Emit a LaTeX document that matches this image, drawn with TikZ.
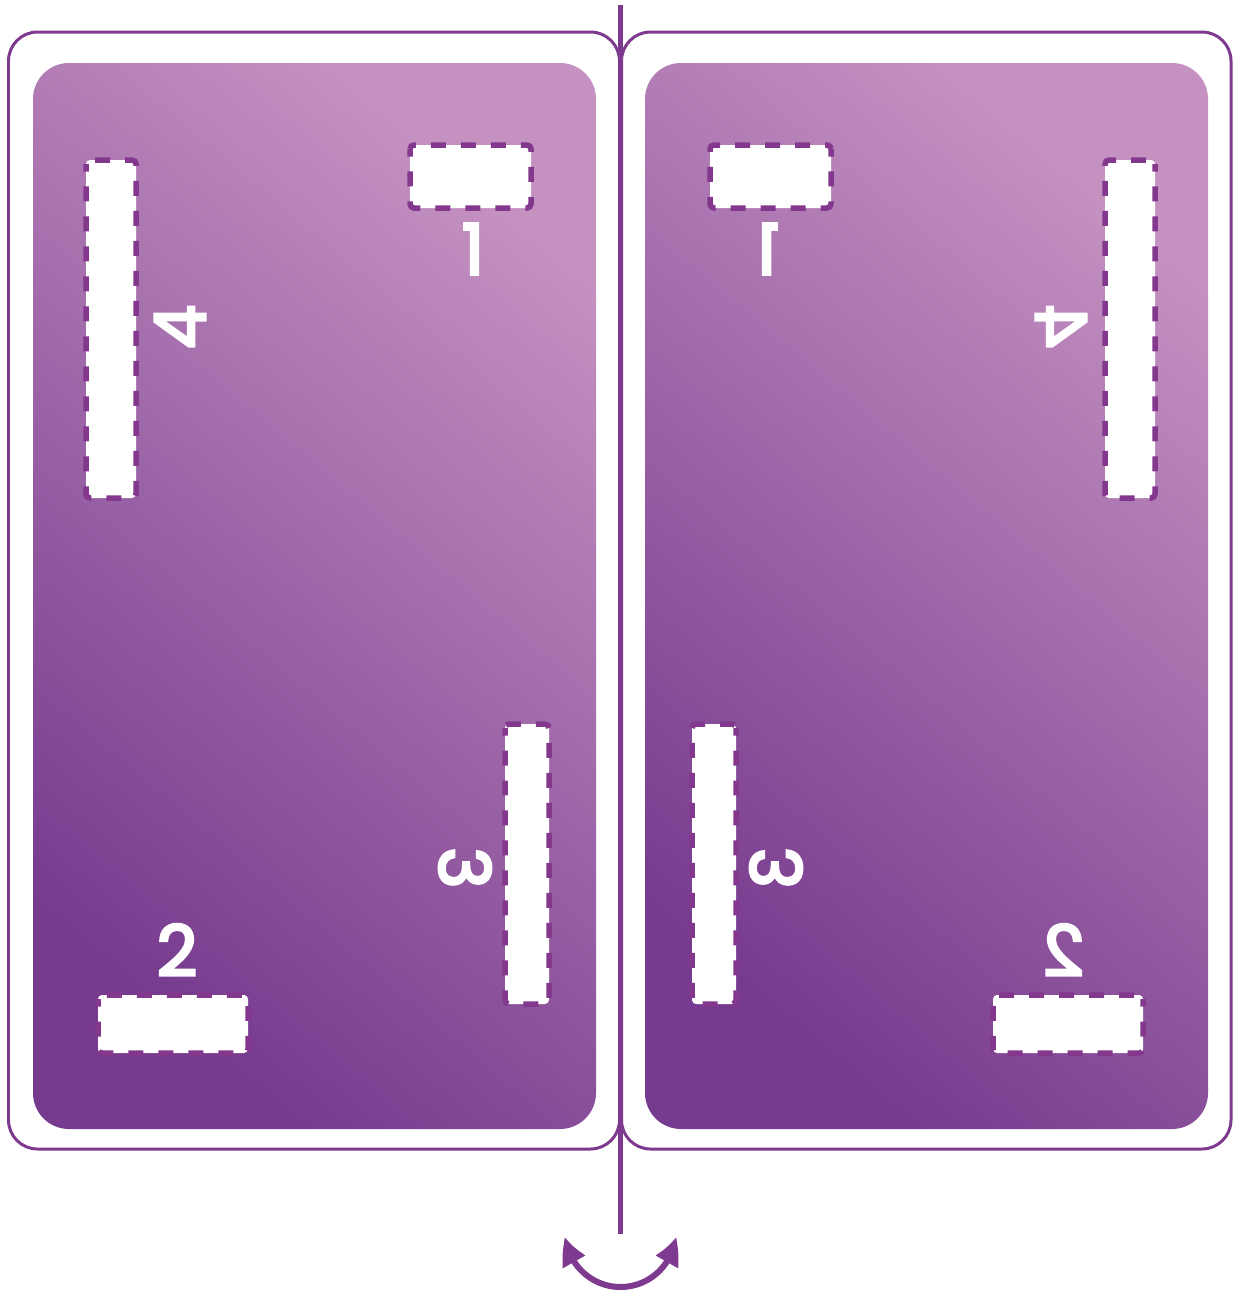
\documentclass[tikz,border=0pt]{standalone}
\usepackage{fontspec}
\usetikzlibrary{arrows.meta,bending}
\newfontfamily\digitfont{Poppins}[FakeBold=4]
\definecolor{plum}{RGB}{126,58,142}
\definecolor{slotplum}{RGB}{131,56,142}
\definecolor{pagelight}{RGB}{196,145,193}
\definecolor{pagedark}{RGB}{118,58,142}
\tikzset{
	frame/.style={draw=plum, line width=0.06cm, rounded corners=0.58cm},
	page/.style={top color=pagelight, bottom color=pagedark, shading angle=-40, rounded corners=0.72cm},
	slot/.style={draw=slotplum, fill=white, line width=0.11cm, dash pattern=on 0.3cm off 0.3cm, dash phase=0.15cm, rounded corners=0.08cm},
	num/.style={text=white, inner sep=0pt, font=\digitfont\fontsize{40}{40}\selectfont},
	turn/.style={draw=plum, line width=0.12cm, {Triangle[length=0.54cm,width=0.48cm,bend]}-{Triangle[length=0.54cm,width=0.48cm,bend]}}
}
\begin{document}
\begin{tikzpicture}[x=0.02cm,y=-0.02cm]
		\useasboundingbox (0,0) rectangle (1233,1295);
		% the two frames
		\draw[frame] (8.5,32) rectangle (619.5,1149);
		\draw[frame] (621.5,32) rectangle (1231,1149);
		\foreach \i in {0,612}
		{
		\shade[page] (33+\i,63) rectangle (596+\i,1129);
		}
		
		% front side, then the same mirrored for the back
		\foreach \s/\side in {1/front,-1/back}
		{
		\begin{scope}[shift={({(1-\s)*620.5},0)}, xscale=\s, transform shape]
		\draw[slot] (410,145) rectangle (531,208);
		\draw[slot] (86,160) rectangle (136,498);
		\draw[slot] (505,724) rectangle (549,1004);
		\draw[slot] (98,995) rectangle (248,1053);
		\node[num] (one-\side) at (473,249) {1};
		\node[num, rotate=90] (four-\side) at (180,327) {4};
		\node[num, rotate=-90] (three-\side) at (465,868) {3};
		\node[num] (two-\side) at (177,950) {2};
		\end{scope}
		}
		
		% fold line and turn arrow
		\coordinate (spine top) at (620.5,5);
		\coordinate (spine bottom) at (620.5,1234);
		\draw[plum, line width=0.09cm] (spine top) -- (spine bottom);
		\coordinate (pivot) at (620.5,1232);
		\draw[turn] ([shift={(175:55)}]pivot) arc[start angle=175, end angle=5, radius=55];
\end{tikzpicture}
\end{document}
